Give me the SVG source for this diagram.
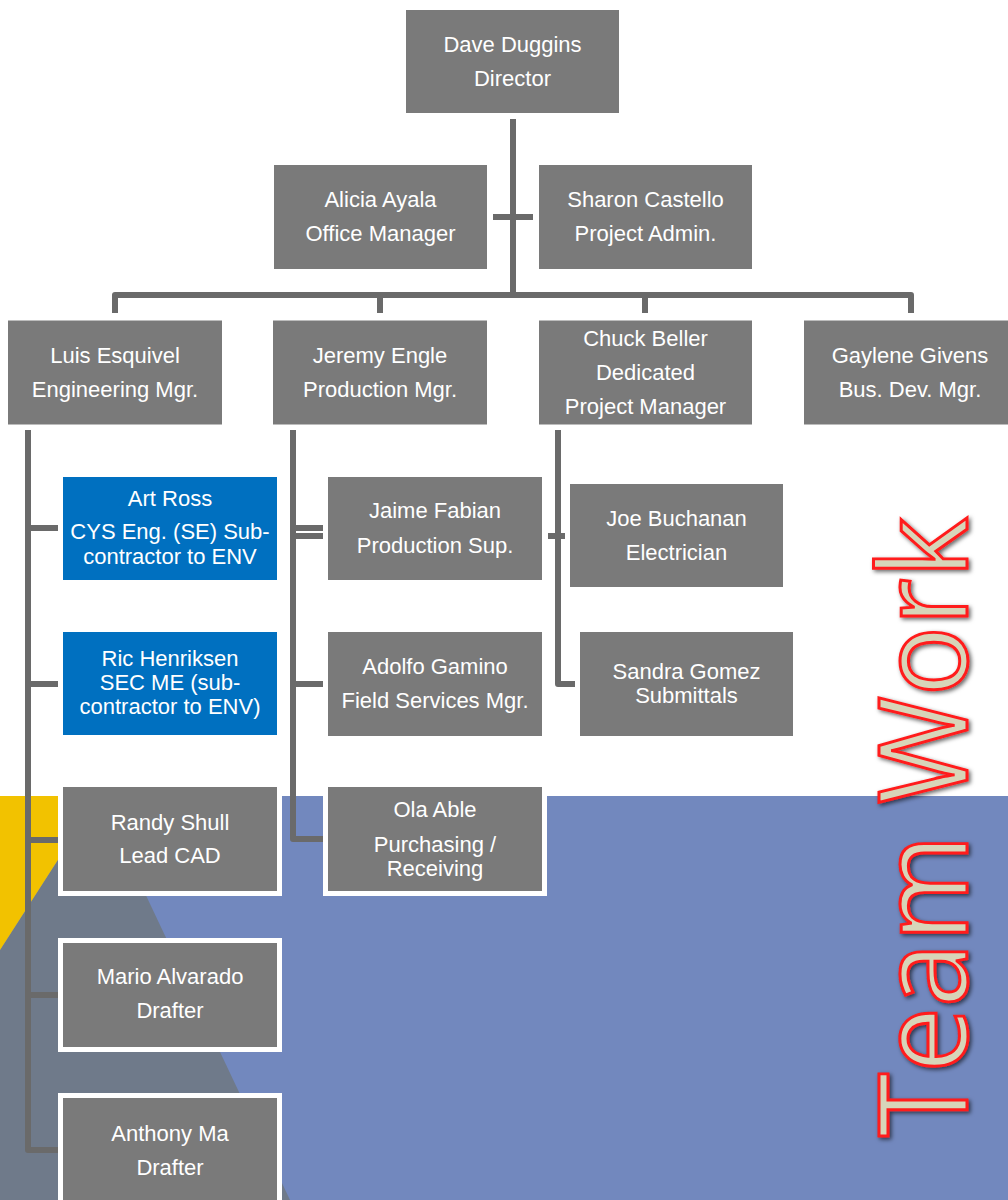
<svg xmlns="http://www.w3.org/2000/svg" width="1008" height="1200" viewBox="0 0 1008 1200">
<style>
.box{fill:#7a7a7a;stroke:#fff;stroke-width:5}
.blue{fill:#0070c0;stroke:#fff;stroke-width:5}
.t{font-family:"Liberation Sans",Arial,sans-serif;font-size:22px;fill:#fff;text-anchor:middle}
.c{fill:none;stroke:#6a6a6a;stroke-width:6;stroke-linejoin:round}
.tw{font-family:"Open Sans","Noto Sans",sans-serif;font-size:122px;font-weight:500;fill:#d7d5b9;stroke:#ff1a1a;stroke-width:3}
</style>
<defs>
<filter id="sh" x="-20%" y="-20%" width="140%" height="140%">
<feDropShadow dx="2" dy="2" stdDeviation="2" flood-color="#000" flood-opacity="0.6"/>
</filter>
</defs>
<rect x="0" y="0" width="1008" height="1200" fill="#fff"/>
<g id="background">
<rect x="0" y="796" width="1008" height="404" fill="#7288be"/>
<polygon points="99,796 290,1200 0,1200 0,950" fill="#6f7a8a"/>
<polygon points="0,796 99,796 0,950" fill="#f2c200"/>
</g>
<g id="connectors">
<path class="c" d="M513,119 V295"/>
<path class="c" d="M493,217 H533" stroke-width="5"/>
<path class="c" d="M115,313 V295 H911 V313"/>
<path class="c" d="M380,295 V313 M645,295 V313"/>
<path class="c" d="M28,430 V1150 H58 M28,528 H58 M28,684 H58 M28,840 H58 M28,995 H58"/>
<path class="c" d="M293,430 V839 H323 M293,684 H323"/>
<path class="c" d="M293,528 H323 M293,536 H323" stroke-width="4"/>
<path class="c" d="M558,430 V684 H575"/>
<path class="c" d="M548,536 H568" stroke-width="5"/>
</g>
<g id="dave"><rect class="box" x="403.5" y="7.5" width="218" height="108"/><text class="t" x="512.5" y="52">Dave Duggins</text><text class="t" x="512.5" y="86">Director</text></g>
<g id="alicia"><rect class="box" x="271.5" y="162.5" width="218" height="109"/><text class="t" x="380.5" y="207">Alicia Ayala</text><text class="t" x="380.5" y="241">Office Manager</text></g>
<g id="sharon"><rect class="box" x="536.5" y="162.5" width="218" height="109"/><text class="t" x="645.5" y="207">Sharon Castello</text><text class="t" x="645.5" y="241">Project Admin.</text></g>
<g id="luis"><rect class="box" x="5.5" y="318" width="219" height="109"/><text class="t" x="115" y="363">Luis Esquivel</text><text class="t" x="115" y="397">Engineering Mgr.</text></g>
<g id="jeremy"><rect class="box" x="270.5" y="318" width="219" height="109"/><text class="t" x="380" y="363">Jeremy Engle</text><text class="t" x="380" y="397">Production Mgr.</text></g>
<g id="chuck"><rect class="box" x="536.5" y="318" width="218" height="109"/><text class="t" x="645.5" y="346">Chuck Beller</text><text class="t" x="645.5" y="380">Dedicated</text><text class="t" x="645.5" y="414">Project Manager</text></g>
<g id="gaylene"><rect class="box" x="801.5" y="318" width="218" height="109"/><text class="t" x="910" y="363">Gaylene Givens</text><text class="t" x="910" y="397">Bus. Dev. Mgr.</text></g>
<g id="art"><rect class="blue" x="60.5" y="474.5" width="219" height="108"/><text class="t" x="170" y="506">Art Ross</text><text class="t" x="170" y="539">CYS Eng. (SE) Sub-</text><text class="t" x="170" y="564">contractor to ENV</text></g>
<g id="ric"><rect class="blue" x="60.5" y="629.5" width="219" height="108"/><text class="t" x="170" y="666">Ric Henriksen</text><text class="t" x="170" y="690">SEC ME (sub-</text><text class="t" x="170" y="714">contractor to ENV)</text></g>
<g id="randy"><rect class="box" x="60.5" y="784.5" width="219" height="109"/><text class="t" x="170" y="830">Randy Shull</text><text class="t" x="170" y="863">Lead CAD</text></g>
<g id="mario"><rect class="box" x="60.5" y="940.5" width="219" height="109"/><text class="t" x="170" y="984">Mario Alvarado</text><text class="t" x="170" y="1018">Drafter</text></g>
<g id="anthony"><rect class="box" x="60.5" y="1095.5" width="219" height="120"/><text class="t" x="170" y="1141">Anthony Ma</text><text class="t" x="170" y="1175">Drafter</text></g>
<g id="jaime"><rect class="box" x="325.5" y="474.5" width="219" height="108"/><text class="t" x="435" y="518">Jaime Fabian</text><text class="t" x="435" y="553">Production Sup.</text></g>
<g id="adolfo"><rect class="box" x="325.5" y="629.5" width="219" height="109"/><text class="t" x="435" y="674">Adolfo Gamino</text><text class="t" x="435" y="708">Field Services Mgr.</text></g>
<g id="ola"><rect class="box" x="325.5" y="784.5" width="219" height="109"/><text class="t" x="435" y="817">Ola Able</text><text class="t" x="435" y="852">Purchasing /</text><text class="t" x="435" y="876">Receiving</text></g>
<g id="joe"><rect class="box" x="567.5" y="481.5" width="218" height="108"/><text class="t" x="676.5" y="526">Joe Buchanan</text><text class="t" x="676.5" y="560">Electrician</text></g>
<g id="sandra"><rect class="box" x="577.5" y="629.5" width="218" height="109"/><text class="t" x="686.5" y="679">Sandra Gomez</text><text class="t" x="686.5" y="703">Submittals</text></g>
<g id="teamwork" filter="url(#sh)"><text class="tw" transform="translate(967,1137) rotate(-90)" x="0" y="0" textLength="620" lengthAdjust="spacingAndGlyphs">Team Work</text></g>
</svg>
